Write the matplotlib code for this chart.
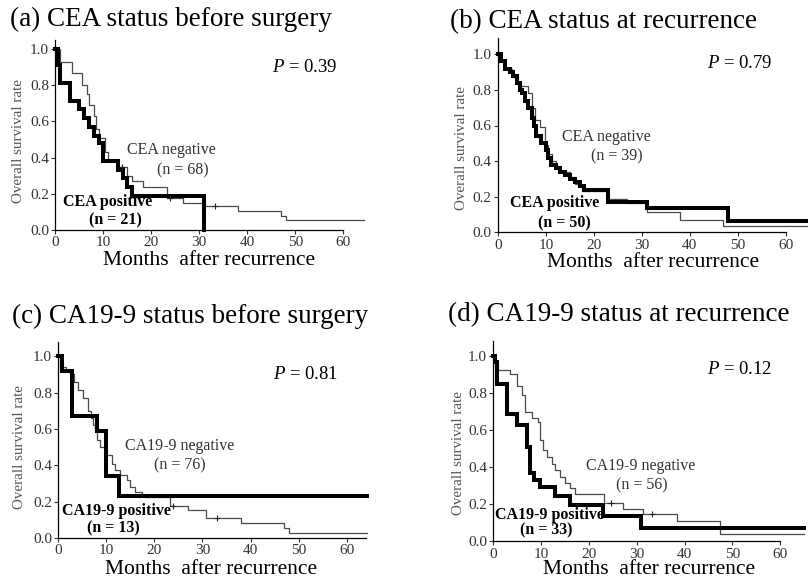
import matplotlib
matplotlib.use('Agg')
import matplotlib.pyplot as plt

plt.rcParams['font.family'] = ['Liberation Serif', 'DejaVu Serif']
plt.rcParams['mathtext.fontset'] = 'custom'
plt.rcParams['mathtext.it'] = 'Liberation Serif:italic'
plt.rcParams['mathtext.rm'] = 'Liberation Serif'

# ---- data: step times (months) and survival after each step ----
# (a) CEA status before surgery
a_pos_t = [0, 0.5, 1, 3, 5, 6, 7, 8, 9, 10, 13, 14, 15, 16, 31]
a_pos_s = [1.0, 0.91, 0.81, 0.71, 0.67, 0.62, 0.57, 0.52, 0.48, 0.38, 0.33, 0.29, 0.24, 0.19, 0.0]
a_neg_t = [0, 1, 3.4, 5.5, 6.5, 7, 8, 8.5, 9, 10.4, 11, 12.8, 14.9, 15.9, 18.3, 23.2, 26.7, 31.2, 38, 47, 48]
a_neg_s = [1.0, 0.93, 0.87, 0.80, 0.75, 0.69, 0.63, 0.56, 0.51, 0.43, 0.38, 0.35, 0.30, 0.27, 0.24, 0.175, 0.147, 0.13, 0.107, 0.08, 0.055]
a_cens_t = [13.8, 23.9, 33.3]
a_cens_s = [0.35, 0.175, 0.13]

# (b) CEA status at recurrence
b_pos_t = [0, 0.7, 1.5, 2.5, 3.2, 4, 4.5, 5, 5.7, 6.3, 7, 7.5, 8, 9, 10, 10.5, 11, 12, 13, 14, 15, 16, 17, 18, 23, 31, 48]
b_pos_s = [1.0, 0.96, 0.92, 0.90, 0.88, 0.84, 0.80, 0.78, 0.74, 0.70, 0.64, 0.60, 0.54, 0.50, 0.46, 0.42, 0.38, 0.36, 0.34, 0.32, 0.30, 0.28, 0.26, 0.24, 0.17, 0.135, 0.063]
b_neg_t = [0, 0.7, 1.5, 3, 4, 4.6, 6.3, 7, 7.7, 8.7, 9.8, 10.5, 11.2, 12, 13, 15, 16, 17.5, 23, 27, 31, 38, 47]
b_neg_s = [1.0, 0.97, 0.92, 0.87, 0.84, 0.82, 0.78, 0.70, 0.63, 0.59, 0.49, 0.44, 0.40, 0.37, 0.34, 0.31, 0.27, 0.23, 0.185, 0.163, 0.116, 0.07, 0.035]
b_cens_t = []
b_cens_s = []

# (c) CA19-9 status before surgery
c_pos_t = [0, 0.7, 2.8, 8.0, 9.9, 12.7]
c_pos_s = [1.0, 0.92, 0.67, 0.59, 0.34, 0.23]
c_neg_t = [0, 0.3, 1.5, 2.4, 3.2, 4.2, 5.2, 6.25, 6.9, 7.3, 7.6, 8.1, 8.7, 9.7, 10, 11.1, 11.8, 12.8, 14.2,
           14.9, 16, 17.4, 23.2, 27, 30.8, 38, 47, 48]
c_neg_s = [1.0, 0.94, 0.925, 0.905, 0.86, 0.815, 0.77, 0.70, 0.66, 0.62, 0.595, 0.54, 0.50, 0.475, 0.457, 0.41,
           0.374, 0.347, 0.32, 0.28, 0.255, 0.227, 0.178, 0.154, 0.108, 0.084, 0.053, 0.026]
c_cens_t = [23.9, 33.0]
c_cens_s = [0.178, 0.108]

# (d) CA19-9 status at recurrence
d_pos_t = [0, 0.4, 0.8, 2.8, 4.9, 7.0, 7.7, 8.6, 9.7, 12.9, 16, 22.9, 30.9]
d_pos_s = [1.0, 0.97, 0.85, 0.69, 0.63, 0.51, 0.37, 0.33, 0.295, 0.245, 0.195, 0.135, 0.07]
d_neg_t = [0, 0.35, 1, 3.5, 4.9, 5.9, 6.6, 8, 9.4, 9.8, 10.5, 11.2, 12.2, 12.9, 13.9, 15, 16, 17.1, 23.2,
           27.2, 31.4, 38.4, 47.4]
d_neg_s = [1.0, 0.95, 0.926, 0.905, 0.84, 0.79, 0.70, 0.665, 0.647, 0.548, 0.494, 0.458, 0.42, 0.386, 0.35,
           0.313, 0.29, 0.255, 0.205, 0.173, 0.15, 0.11, 0.04]
d_cens_t = [24.6, 33.3]
d_cens_s = [0.205, 0.15]

titles = ['(a) CEA status before surgery', '(b) CEA status at recurrence',
          '(c) CA19-9 status before surgery', '(d) CA19-9 status at recurrence']
neg_labels = ['CEA negative', 'CEA negative', 'CA19-9 negative', 'CA19-9 negative']
pos_labels = ['CEA positive', 'CEA positive', 'CA19-9 positive', 'CA19-9 positive']
neg_n = ['(n = 68)', '(n = 39)', '(n = 76)', '(n = 56)']
pos_n = ['(n = 21)', '(n = 50)', '(n = 13)', '(n = 33)']
p_values = ['0.39', '0.79', '0.81', '0.12']
end_month = [64.3, 65, 64.2, 65]
xticks = [0, 10, 20, 30, 40, 50, 60]
yticks = [0.0, 0.2, 0.4, 0.6, 0.8, 1.0]

# layout in pixels: origin x, origin y (from top), px per month, px per unit survival
W, H = 808, 586
geom = [(55.3, 230, 4.8, 181), (498, 232.3, 4.795, 178),
        (58.3, 538, 4.806, 181.7), (493.3, 541.3, 4.78, 185)]
ytop = [1.05, 1.09, 1.08, 1.08]
spine_end = [60, 60, 64, 60]
title_xy = [(10, 7), (450, 9), (12, 304), (448, 302)]
neg_pos = [(24.2, 0.44, 26.5, 0.33), (22.5, 0.537, 24.7, 0.425),
           (25.2, 0.505, 25.2, 0.40), (30.8, 0.405, 31.0, 0.30)]
pos_pos = [(11.0, 0.155, 12.5, 0.055), (11.85, 0.163, 13.8, 0.05),
           (12.0, 0.147, 11.5, 0.055), (11.65, 0.14, 11.1, 0.057)]
p_pos = [(58.9, 0.90), (57.2, 0.948), (58.3, 0.90), (58.4, 0.93)]
xlab_pos = [(32.0, -0.115), (32.3, -0.115), (31.7, -0.12), (32.6, -0.1)]
ylab_x = [19, 462, 20, 459]
ylab_y = [0.49, 0.476, 0.50, 0.477]

pos_t = [a_pos_t, b_pos_t, c_pos_t, d_pos_t]
pos_s = [a_pos_s, b_pos_s, c_pos_s, d_pos_s]
neg_t = [a_neg_t, b_neg_t, c_neg_t, d_neg_t]
neg_s = [a_neg_s, b_neg_s, c_neg_s, d_neg_s]
cens_t = [a_cens_t, b_cens_t, c_cens_t, d_cens_t]
cens_s = [a_cens_s, b_cens_s, c_cens_s, d_cens_s]

fig = plt.figure(figsize=(W / 100, H / 100), dpi=100)

for i in range(4):
    x0, y0, ppm, ppu = geom[i]
    ax = fig.add_axes([x0 / W, (H - y0) / H, 65 * ppm / W, ytop[i] * ppu / H])
    ax.set_xlim(0, 65)
    ax.set_ylim(0, ytop[i])
    ax.patch.set_visible(False)

    # thin curve (negative), then thick curve (positive)
    nt = neg_t[i] + [end_month[i]]
    ns = neg_s[i] + [neg_s[i][-1]]
    if pos_s[i][-1] == 0:
        pt, ps = pos_t[i], pos_s[i]
    else:
        pt = pos_t[i] + [end_month[i]]
        ps = pos_s[i] + [pos_s[i][-1]]
    ax.step(nt, ns, where='post', color='#4a4a4a', lw=0.9, clip_on=False, zorder=3)
    ax.step(pt, ps, where='post', color='black', lw=2.9, clip_on=False, zorder=4,
            solid_joinstyle='miter')
    if cens_t[i]:
        ax.plot(cens_t[i], cens_s[i], '+', color='#222222', ms=5, mew=0.8,
                clip_on=False, zorder=5)

    for s in ['top', 'right']:
        ax.spines[s].set_visible(False)
    ax.spines['left'].set_linewidth(0.9)
    ax.spines['bottom'].set_linewidth(0.9)
    ax.spines['bottom'].set_bounds(0, spine_end[i])
    ax.set_xticks(xticks)
    ax.set_yticks(yticks)
    ax.set_yticklabels(['%.1f' % v for v in yticks])
    ax.tick_params(direction='out', length=3, width=0.8, pad=1.5,
                   labelsize=11, labelcolor='#333333', color='#333333')

    ax.text(neg_pos[i][0], neg_pos[i][1], neg_labels[i], fontsize=11.5,
            ha='center', va='center', color='#333333', zorder=6)
    ax.text(neg_pos[i][2], neg_pos[i][3], neg_n[i], fontsize=11.5,
            ha='center', va='center', color='#333333', zorder=6)
    ax.text(pos_pos[i][0], pos_pos[i][1], pos_labels[i], fontsize=11.5,
            fontweight='bold', ha='center', va='center', zorder=6)
    ax.text(pos_pos[i][2], pos_pos[i][3], pos_n[i], fontsize=11.5,
            fontweight='bold', ha='center', va='center', zorder=6)
    ax.text(p_pos[i][0], p_pos[i][1], '$P$ = ' + p_values[i], fontsize=13.5,
            ha='right', va='center')

    ax.text(xlab_pos[i][0], xlab_pos[i][1], 'Months  after recurrence', fontsize=15.5,
            ha='center', va='top', clip_on=False)
    fig.text(ylab_x[i] / W, (H - y0 + ylab_y[i] * ppu) / H, 'Overall survival rate',
             rotation=90, fontsize=10.8, color='#555555', ha='center', va='center')

    fig.text(title_xy[i][0] / W, 1 - title_xy[i][1] / H, titles[i], fontsize=19.5,
             ha='left', va='top')

fig.savefig('out.png', dpi=100)
